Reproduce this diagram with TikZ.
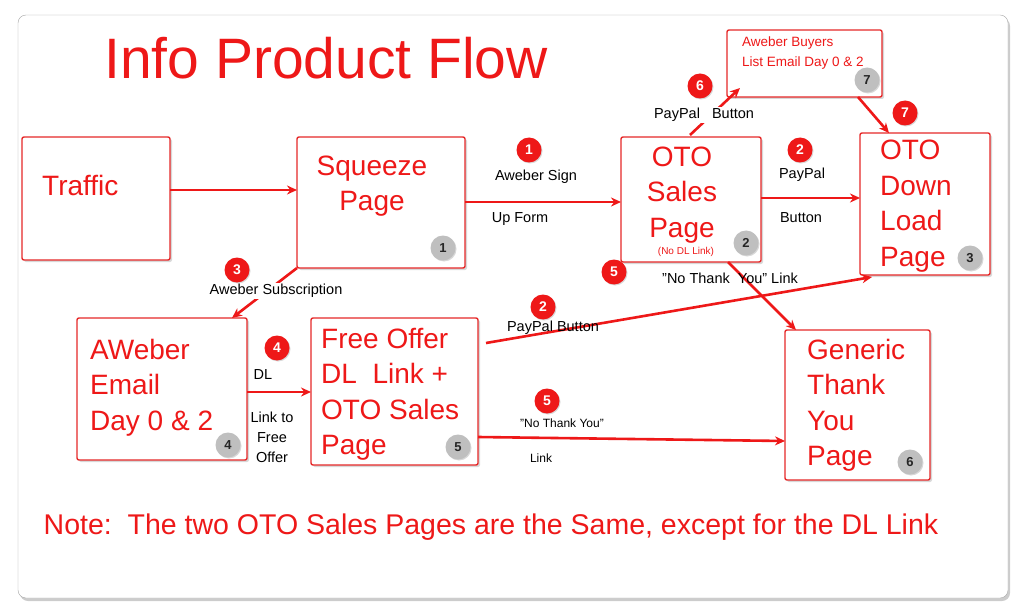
\documentclass[tikz,border=0pt]{standalone}
\usepackage{fontspec}
\setmainfont{Liberation Sans}
\usetikzlibrary{shadows,arrows.meta}
\definecolor{rd}{RGB}{238,24,24}
\definecolor{bd}{RGB}{230,40,40}
\begin{document}
\begin{tikzpicture}[x=1pt,y=-1pt,
 box/.style={draw=bd,line width=1.4pt,fill=white,rounded corners=2pt,drop shadow={shadow xshift=2pt,shadow yshift=-2pt,opacity=.3},inner sep=0pt},
 big/.style={text=rd,font=\fontsize{28}{35.5}\selectfont,align=left,anchor=north west,inner sep=0pt},
 lab/.style={font=\fontsize{14.5}{17}\selectfont,inner sep=1pt},
 rb/.style={circle,fill=rd,text=white,minimum size=25pt,inner sep=0pt,font=\fontsize{14}{14}\selectfont\bfseries,drop shadow={shadow xshift=1pt,shadow yshift=-1pt,opacity=.3}},
 gb/.style={circle,minimum size=25pt,inner sep=0pt,font=\fontsize{13}{13}\selectfont\bfseries,fill=black!25,text=black!85,drop shadow={shadow xshift=1pt,shadow yshift=-1pt,opacity=.3}},
 ar/.style={draw=rd,line width=2.6pt,-{Stealth[length=10pt,width=9pt]}}]
\useasboundingbox (0,0) rectangle (1024,612);
\draw[black!35,fill=white,rounded corners=8pt,drop shadow={shadow xshift=2pt,shadow yshift=-3pt,opacity=.4}] (18,15) rectangle (1008,598);
\node[text=rd,font=\fontsize{57}{57}\selectfont] (title) at (326,58) {Info Product Flow};
% boxes
\draw[box] (22,137) rectangle (170,260);
\node[big] (t1) at (42,175) {Traffic};
\draw[box] (297,137) rectangle (465,268);
\node[big,align=center,anchor=center] (t2) at (372,186) {Squeeze\\Page};
\node[gb] (g1) at (443,248) {1};
\draw[box] (621,137) rectangle (761,262);
\node[big,align=center,anchor=center] (t3) at (682,195) {OTO\\Sales\\Page};
\node[text=rd,font=\fontsize{10}{10}\selectfont] (nodl) at (686,252) {(No DL Link)};
\node[gb] (g2) at (746,243) {2};
\draw[box] (860,133) rectangle (990,275);
\node[big] (t4) at (880,140) {OTO\\Down\\Load\\Page};
\node[gb] (g3) at (970,258) {3};
\draw[box] (727,30) rectangle (882,97);
\node[text=rd,font=\fontsize{13.5}{20}\selectfont,align=left,anchor=north west,inner sep=0pt] (t5) at (742,37) {Aweber Buyers\\List Email Day 0 \& 2};
\node[gb] (g7) at (867,80) {7};
\draw[box] (77,318) rectangle (247,460);
\node[big] (t6) at (90,339) {AWeber\\Email\\Day 0 \& 2};
\node[gb] (g4) at (228,445) {4};
\draw[box] (311,318) rectangle (478,465);
\node[big] (t7) at (321,328) {Free Offer\\DL\ \ Link +\\OTO Sales\\Page};
\node[gb] (g5) at (458,447) {5};
\draw[box] (785,330) rectangle (930,480);
\node[big] (t8) at (807,339) {Generic\\Thank\\You\\Page};
\node[gb] (g6) at (910,462) {6};
% connector endpoints
\coordinate (a1) at (170,190); \coordinate (a2) at (297,190);
\coordinate (b1) at (465,202); \coordinate (b2) at (621,202);
\coordinate (c1) at (761,198); \coordinate (c2) at (860,198);
\coordinate (d1) at (690,135); \coordinate (d2) at (740,88);
\coordinate (e1) at (858,97); \coordinate (e2) at (889,133);
\coordinate (f1) at (297,268); \coordinate (f2) at (232,318);
\coordinate (h1) at (247,392); \coordinate (h2) at (311,392);
\coordinate (i1) at (486,343); \coordinate (i2) at (872,277);
\coordinate (j1) at (478,437); \coordinate (j2) at (785,441);
\coordinate (k1) at (728,262); \coordinate (k2) at (796,330);
\draw[ar] (a1) -- (a2);
\draw[ar] (b1) -- (b2);
\draw[ar] (c1) -- (c2);
\draw[ar] (d1) -- (d2);
\draw[ar] (e1) -- (e2);
\draw[ar] (f1) -- (f2);
\draw[ar] (h1) -- (h2);
\draw[ar] (i1) -- (i2);
\draw[ar] (j1) -- (j2);
\draw[ar] (k1) -- (k2);
% labels
\node[lab] (l1) at (536,177) {Aweber Sign};
\node[lab] (l2) at (520,219) {Up Form};
\node[rb] (r1) at (529,150) {1};
\node[lab] (l3) at (802,175) {PayPal};
\node[lab] (l4) at (801,218) {Button};
\node[rb] (r2) at (800,150) {2};
\node[lab,fill=white] (l5) at (704,115) {PayPal\ \ \ Button};
\node[rb] (r6) at (700,86) {6};
\node[rb] (r7) at (905,113) {7};
\node[lab,fill=white] (l6) at (276,291) {Aweber Subscription};
\node[rb] (r3) at (237,270) {3};
\node[lab] (l7) at (263,375) {DL};
\node[lab,align=center,font=\fontsize{14.5}{20}\selectfont] (l8) at (272,437) {Link to\\Free\\Offer};
\node[rb] (r4) at (277,348) {4};
\node[lab] (l9) at (553,328) {PayPal Button};
\node[rb] (r2b) at (543,307) {2};
\node[lab,font=\fontsize{12}{14}\selectfont] (l10) at (562,423) {"No Thank You"};
\node[lab,font=\fontsize{12}{14}\selectfont] (l11) at (541,458) {Link};
\node[rb] (r5) at (547,401) {5};
\node[lab] (l12) at (730,278) {"No Thank\ \ You" Link};
\node[rb] (r5b) at (614,272) {5};
\node[text=rd,font=\fontsize{28.5}{28.5}\selectfont] (note) at (491,527) {Note:\ \ The two OTO Sales Pages are the Same, except for the DL Link};
\end{tikzpicture}
\end{document}
